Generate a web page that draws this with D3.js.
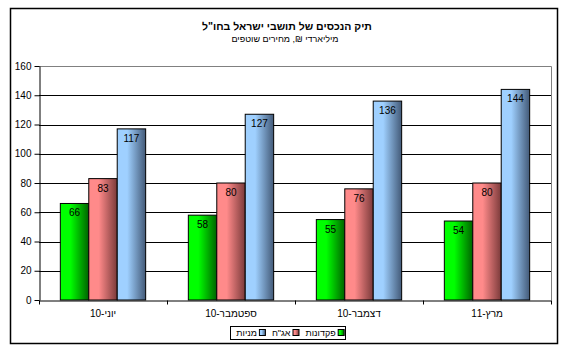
<!DOCTYPE html>
<html>
<head>
<meta charset="utf-8">
<script src="https://cdn.jsdelivr.net/npm/d3@7"></script>
<style>
  body { margin: 0; background: #fff; }
  text { font-family: Arial, "Liberation Sans", sans-serif; fill: #000; }
  .tick text { font-size: 10px; }
</style>
</head>
<body>
<div id="chart"></div>
<script>
// data
const quarters = ["יוני-10", "ספטמבר-10", "דצמבר-10", "מרץ-11"];
const seriesNames = ["פקדונות", "אג\"ח", "מניות"];
const deposits = [66, 58, 55, 54];
const bonds = [83, 80, 76, 80];
const stocks = [117, 127, 136, 144];
const yTicks = [0, 20, 40, 60, 80, 100, 120, 140, 160];

const W = 565, H = 353;
const plot = {left: 39, right: 551, top: 66, bottom: 300};

const svg = d3.select("#chart").append("svg")
  .attr("width", W).attr("height", H);

// gradients, light on the left, dark on the right
const grads = [
  {id: "gGreen", from: "#00ff00", to: "#006400"},
  {id: "gRed", from: "#ff8a8a", to: "#7a3a3a"},
  {id: "gBlue", from: "#9fd0ff", to: "#435a78"}
];
const defs = svg.append("defs");
grads.forEach(g => {
  const lg = defs.append("linearGradient").attr("id", g.id)
    .attr("x1", 0).attr("x2", 1).attr("y1", 0).attr("y2", 0);
  lg.append("stop").attr("offset", "0%").attr("stop-color", g.from);
  lg.append("stop").attr("offset", "35%").attr("stop-color", g.from);
  lg.append("stop").attr("offset", "100%").attr("stop-color", g.to);
});

// chart area border
svg.append("rect")
  .attr("x", 10.5).attr("y", 8.5)
  .attr("width", 547).attr("height", 335)
  .attr("fill", "#fff").attr("stroke", "#000").attr("stroke-width", 1.5);

// titles
svg.append("text")
  .attr("x", 287).attr("y", 30)
  .attr("text-anchor", "middle")
  .style("font-size", "10.5px").style("font-weight", "bold")
  .text("תיק הנכסים של תושבי ישראל בחו\"ל");
svg.append("text")
  .attr("x", 285).attr("y", 42)
  .attr("text-anchor", "middle")
  .style("font-size", "9px")
  .text("מיליארדי ₪, מחירים שוטפים");

// scales
const x0 = d3.scaleBand().domain(quarters).range([plot.left, plot.right]).padding(0);
const x1 = d3.scaleBand().domain(seriesNames).range([0, x0.bandwidth()])
  .paddingInner(0).paddingOuter(0.75);
const y = d3.scaleLinear().domain([0, 160]).range([plot.bottom, plot.top]);

// gridlines
svg.append("g")
  .selectAll("line")
  .data(yTicks.filter(d => d > 0 && d < 160))
  .join("line")
    .attr("x1", plot.left).attr("x2", plot.right)
    .attr("y1", d => Math.round(y(d)) + 0.5).attr("y2", d => Math.round(y(d)) + 0.5)
    .attr("stroke", "#000");

// plot border top / right (grey)
svg.append("path")
  .attr("d", `M${plot.left},${plot.top + 0.5}H${plot.right + 0.5}V${plot.bottom}`)
  .attr("fill", "none").attr("stroke", "#808080");

// bars
const data = quarters.map((q, i) => ({q, vals: [deposits[i], bonds[i], stocks[i]]}));
const groups = svg.append("g").selectAll("g")
  .data(data).join("g")
    .attr("transform", d => `translate(${x0(d.q)},0)`);

groups.selectAll("rect")
  .data(d => d.vals.map((v, j) => ({v, j})))
  .join("rect")
    .attr("x", d => x1(seriesNames[d.j]))
    .attr("y", d => y(d.v))
    .attr("width", x1.bandwidth())
    .attr("height", d => y(0) - y(d.v))
    .attr("fill", d => `url(#${grads[d.j].id})`)
    .attr("stroke", "#000").attr("stroke-width", 1);

groups.selectAll("text")
  .data(d => d.vals.map((v, j) => ({v, j})))
  .join("text")
    .attr("x", d => x1(seriesNames[d.j]) + x1.bandwidth() / 2)
    .attr("y", d => y(d.v) + 13)
    .attr("text-anchor", "middle")
    .style("font-size", "10px")
    .text(d => d.v);

// y axis
svg.append("g")
  .attr("transform", `translate(${plot.left + 0.5},0)`)
  .call(d3.axisLeft(y).tickValues(yTicks).tickSizeInner(5).tickSizeOuter(0).tickPadding(3))
  .call(g => g.select(".domain").attr("stroke", "#000"))
  .call(g => g.selectAll(".tick line").attr("stroke", "#000"));

// x axis
const xAxis = svg.append("g")
  .attr("transform", `translate(0,${plot.bottom + 0.5})`)
  .call(d3.axisBottom(x0).tickSize(0).tickPadding(9))
  .call(g => g.select(".domain").attr("stroke", "#000"));
xAxis.append("g").selectAll("line")
  .data(quarters.concat(["end"]))
  .join("line")
    .attr("x1", (d, i) => plot.left + i * x0.bandwidth() + 0.5)
    .attr("x2", (d, i) => plot.left + i * x0.bandwidth() + 0.5)
    .attr("y1", 0).attr("y2", 4)
    .attr("stroke", "#000");

// legend, laid out right to left
const legend = svg.append("g");
const box = legend.append("rect")
  .attr("fill", "#fff").attr("stroke", "#000");
let cx = 0;
const items = seriesNames.map((name, j) => {
  const g = legend.append("g");
  g.append("rect")
    .attr("x", cx - 7.5).attr("y", 329.5)
    .attr("width", 6).attr("height", 6)
    .attr("fill", `url(#${grads[j].id})`)
    .attr("stroke", "#000");
  const t = g.append("text")
    .attr("x", cx - 10).attr("y", 336)
    .attr("text-anchor", "end")
    .style("font-size", "9px")
    .text(name);
  cx = cx - 10 - t.node().getComputedTextLength() - 5;
  return g;
});
const legW = -cx + 1;
const right = 288 + legW / 2;
legend.selectAll("g").attr("transform", `translate(${right},0)`);
box.attr("x", Math.round(right - legW) + 0.5).attr("y", 326.5)
  .attr("width", Math.round(legW)).attr("height", 13);
</script>
</body>
</html>
